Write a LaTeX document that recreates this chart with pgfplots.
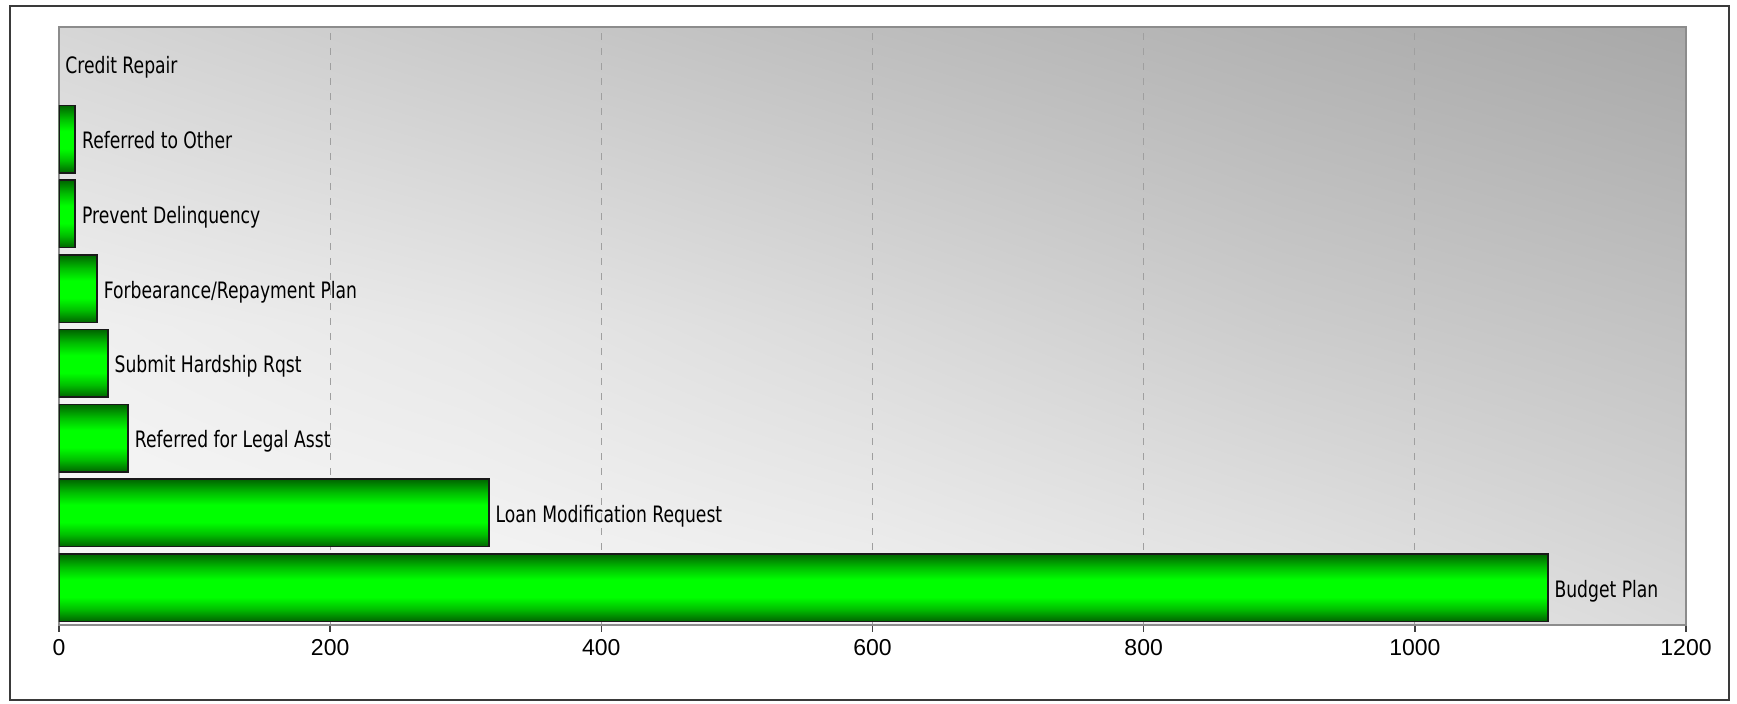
\documentclass[border=0pt]{standalone}
\usepackage{pgfplots}
\pgfplotsset{compat=1.18}
\usetikzlibrary{shadings}
\usepackage{fontspec}
\setmainfont{Liberation Sans}
\newfontfamily\labfont[FakeStretch=0.76]{DejaVu Sans}
\definecolor{bd}{RGB}{0,100,0}
\definecolor{bm}{RGB}{0,190,0}
\definecolor{bl}{RGB}{0,255,0}
\definecolor{frame}{RGB}{58,58,58}
% background colour grid: cXY, X = column 0..4 (left to right), Y = row 0..2 (bottom to top)
\definecolor{c00}{RGB}{249,249,249}
\definecolor{c10}{RGB}{247,247,247}
\definecolor{c20}{RGB}{242,242,242}
\definecolor{c30}{RGB}{232,232,232}
\definecolor{c40}{RGB}{218,218,218}
\definecolor{c01}{RGB}{240,240,240}
\definecolor{c11}{RGB}{231,231,231}
\definecolor{c21}{RGB}{218,218,218}
\definecolor{c31}{RGB}{204,204,204}
\definecolor{c41}{RGB}{194,194,194}
\definecolor{c02}{RGB}{214,214,214}
\definecolor{c12}{RGB}{201,201,201}
\definecolor{c22}{RGB}{189,189,189}
\definecolor{c32}{RGB}{178,178,178}
\definecolor{c42}{RGB}{168,168,168}
\pgfdeclareverticalshading{barshade}{100bp}{color(0bp)=(bd); color(25bp)=(bd); color(34bp)=(bm); color(43bp)=(bl); color(56bp)=(bl); color(65bp)=(bm); color(75bp)=(bd); color(100bp)=(bd)}
\begin{document}
\begin{tikzpicture}
% plot-area background (decoration only), axis box is (0,0)--(813.5pt,299pt)
\foreach \i/\j in {0/1,1/2,2/3,3/4}{
  \foreach \k/\l in {0/1,1/2}{
    \shade[lower left=c\i\k, lower right=c\j\k, upper left=c\i\l, upper right=c\j\l]
      (\i*203.375pt,\k*149.5pt) rectangle (\j*203.375pt,\l*149.5pt);
  }
}
\begin{axis}[
  at={(0,0)}, anchor=south west,
  scale only axis, width=813.5pt, height=299pt,
  xmin=0, xmax=1200, ymin=-0.5, ymax=7.5,
  xtick={0,200,...,1200}, ytick=\empty,
  xtick pos=bottom, tick align=outside, major tick length=3.5pt,
  xmajorgrids, grid style={gray!75, dash pattern=on 3.3pt off 4.2pt, line width=0.6pt},
  axis line style={draw=gray!90, line width=1pt},
  tick style={black!75, line width=0.7pt},
  xticklabel style={font=\fontsize{11.5}{13}\selectfont},
  /pgf/number format/assume math mode=true,
  /pgf/number format/1000 sep={},
  mybar/.style={xbar, bar width=33.75pt, bar shift=0pt, draw=black!90, line width=0.8pt, shade, shading=barshade},
  mylab/.style={nodes near coords={#1}, every node near coord/.append style={anchor=base west, inner sep=0pt, xshift=3pt, yshift=-4.7pt, font=\fontsize{11.3}{13}\labfont, text=black}},
]
\addplot[mybar, mylab={Budget Plan}] coordinates {(1098,0)};
\addplot[mybar, mylab={Loan Modification Request}] coordinates {(317,1)};
\addplot[mybar, mylab={Referred for Legal Asst}] coordinates {(51,2)};
\addplot[mybar, mylab={Submit Hardship Rqst}] coordinates {(36,3)};
\addplot[mybar, mylab={Forbearance/Repayment Plan}] coordinates {(28,4)};
\addplot[mybar, mylab={Prevent Delinquency}] coordinates {(12,5)};
\addplot[mybar, mylab={Referred to Other}] coordinates {(12,6)};
\addplot[xbar, bar width=33.75pt, bar shift=0pt, draw=none, fill=none, mylab={Credit Repair}] coordinates {(0,7)};
\end{axis}
\pgfresetboundingbox
\path ([xshift=-29.5pt,yshift=-39.5pt]current axis.south west) rectangle ([xshift=25.5pt,yshift=13.5pt]current axis.north east);
\draw[frame, line width=1.1pt] ([xshift=-24.35pt,yshift=-37.5pt]current axis.south west) rectangle ([xshift=21.5pt,yshift=10.4pt]current axis.north east);
\end{tikzpicture}
\end{document}
